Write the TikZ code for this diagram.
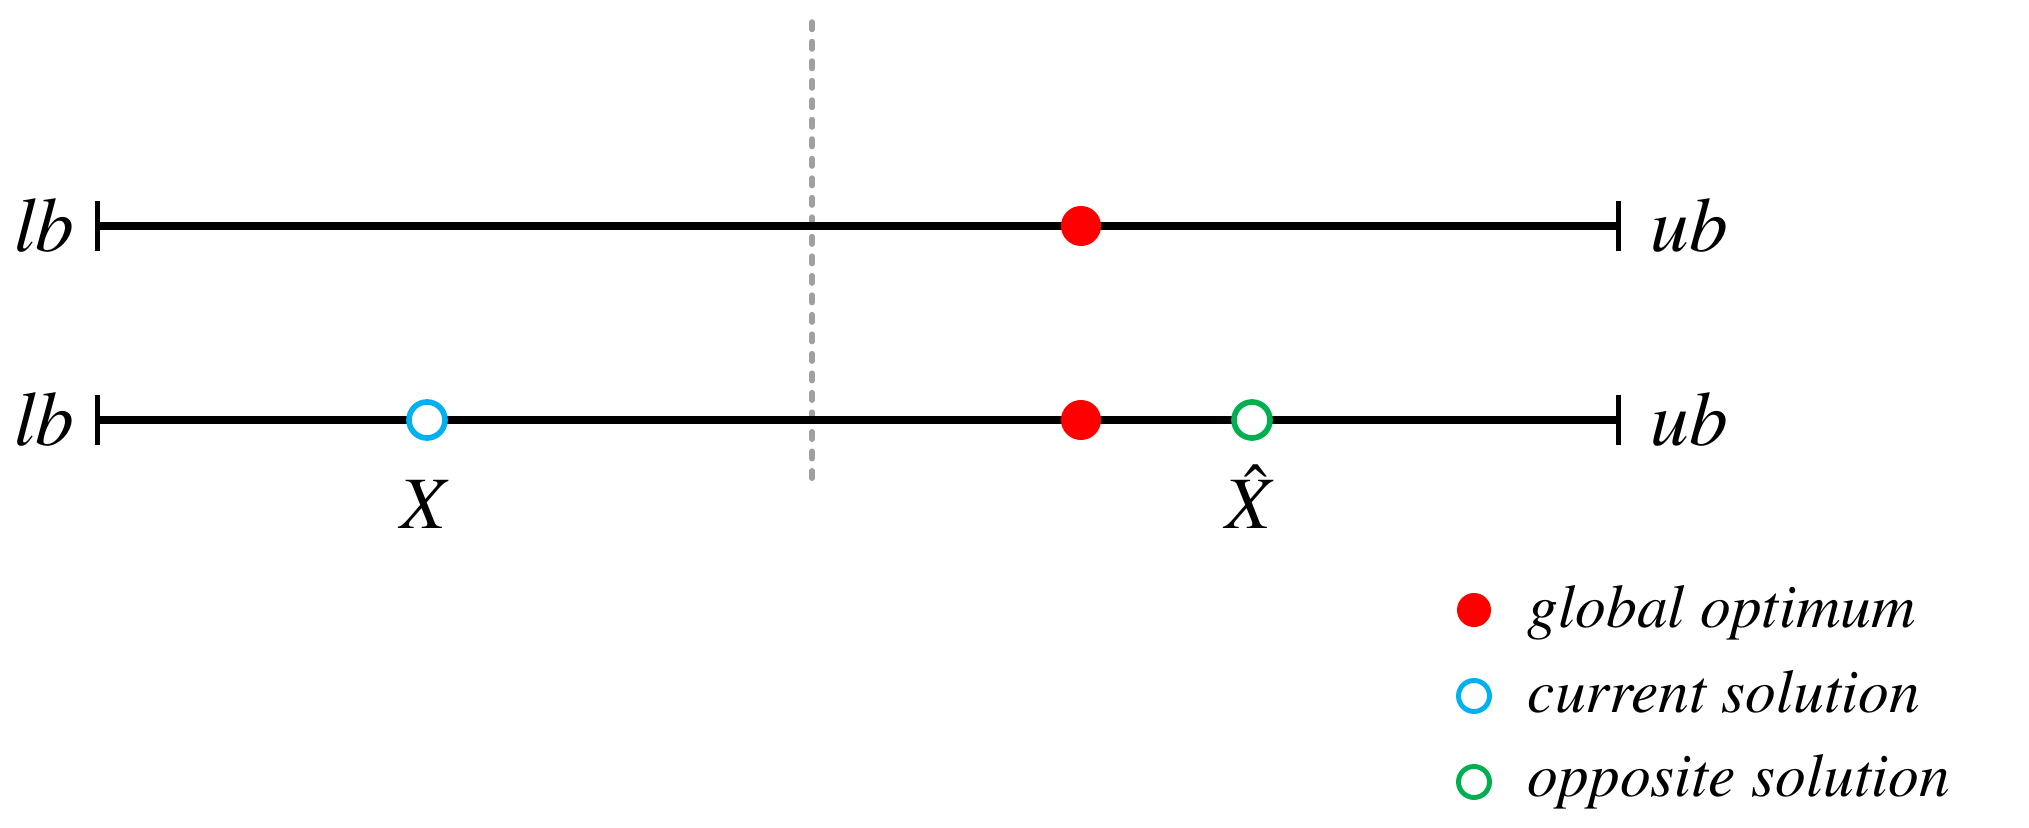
\documentclass[tikz,border=0pt]{standalone}
\usepackage[T1]{fontenc}
\usepackage{mathptmx}
\usetikzlibrary{positioning,arrows.meta}
\definecolor{optred}{RGB}{255,0,0}
\definecolor{curblue}{RGB}{0,176,240}
\definecolor{oppgreen}{RGB}{0,176,80}
\definecolor{divgray}{RGB}{160,160,160}
\tikzset{
  axisline/.style={line width=2pt, {Bar[width=0.5cm,line width=1.5pt]}-{Bar[width=0.5cm,line width=1.5pt]}},
  divline/.style={divgray, line width=0.055cm, line cap=round, dash pattern=on 0.075cm off 0.12cm},
  optdot/.style={circle, fill=optred, minimum size=0.4cm},
  soldot/.style={circle, fill=white, line width=1.6pt, minimum size=0.36cm},
  bndlabel/.style={font=\fontsize{22}{22}\selectfont\itshape},
  ptlabel/.style={font=\fontsize{21}{21}\selectfont, anchor=base},
  leglabel/.style={font=\fontsize{17.5}{17.5}\selectfont\itshape, anchor=base west}
}
\begin{document}
\begin{tikzpicture}[x=0.01cm, y=-0.01cm]
    \tikzstyle{every node}+=[inner sep=0pt]
    \useasboundingbox (0,0) rectangle (2029,828);
    % separator
    \coordinate (divTop) at (812,22);
    \coordinate (divBot) at (812,490);
    \draw [divline] (divTop) -- (divBot);
    % the two ranges
    \coordinate (lbA) at (95,226);
    \coordinate (ubA) at (1621,226);
    \coordinate (lbB) at (95,420);
    \coordinate (ubB) at (1621,420);
    \draw [axisline] (lbA) -- (ubA);
    \draw [axisline] (lbB) -- (ubB);
    \node [bndlabel, left=0.2cm of lbA] (lbAtext) {lb};
    \node [bndlabel, right=0.29cm of ubA] (ubAtext) {ub};
    \node [bndlabel, left=0.2cm of lbB] (lbBtext) {lb};
    \node [bndlabel, right=0.29cm of ubB] (ubBtext) {ub};
    % points
    \node [optdot] (optA) at (1081,226) {};
    \node [optdot] (optB) at (1081,420) {};
    \node [soldot, draw=curblue] (cur) at (427,420) {};
    \node [soldot, draw=oppgreen] (opp) at (1252,420) {};
    \node [ptlabel] (curtext) at (427,529) {$X$};
    \node [ptlabel] (opptext) at (1252,529) {$\hat{X}$};
    % legend
    \node [optdot, minimum size=0.34cm] (legOpt) at (1474,610) {};
    \node [soldot, draw=curblue, minimum size=0.31cm, line width=1.4pt] (legCur) at (1474,696) {};
    \node [soldot, draw=oppgreen, minimum size=0.31cm, line width=1.4pt] (legOpp) at (1474,782) {};
    \node [leglabel] (legOpttext) at (1527,628) {global optimum};
    \node [leglabel] (legCurtext) at (1527,713) {current solution};
    \node [leglabel] (legOpptext) at (1527,797) {opposite solution};
\end{tikzpicture}
\end{document}
